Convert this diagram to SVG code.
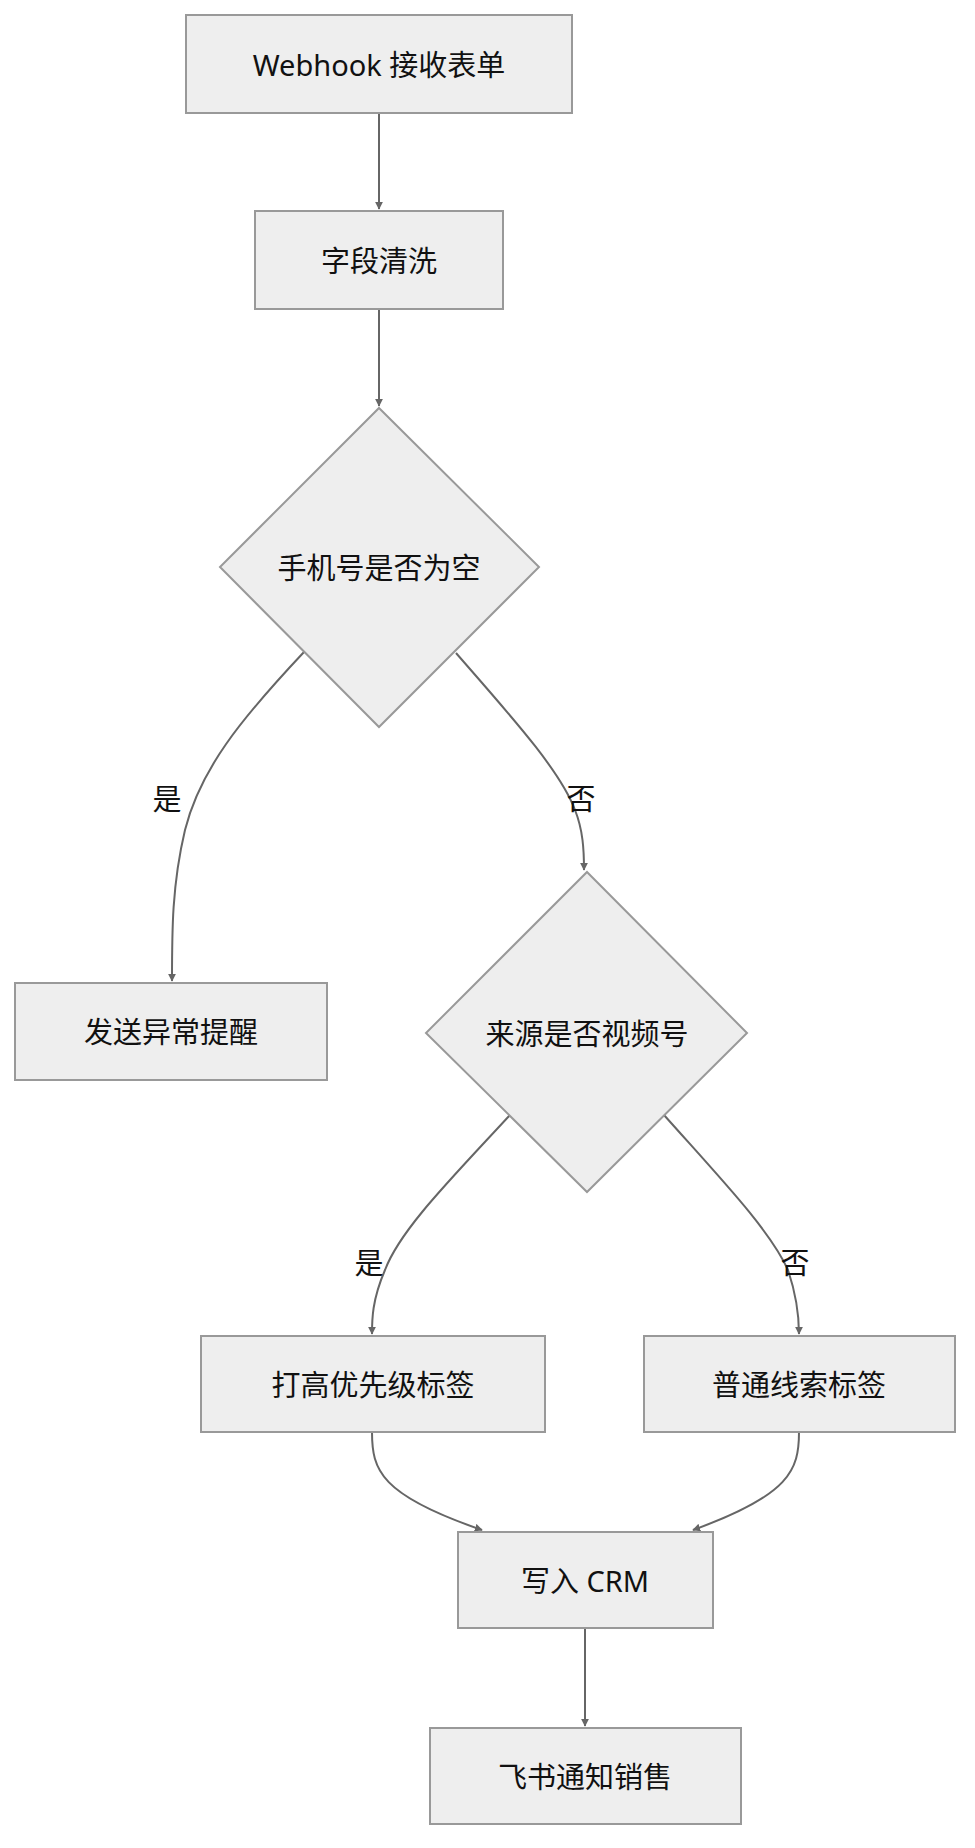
<svg xmlns="http://www.w3.org/2000/svg" width="975" height="1848" viewBox="0 0 975 1848">
<style>
.n{fill:#eeeeee;stroke:#999999;stroke-width:2}
.t{font-family:"Noto Sans","Noto Sans CJK SC",sans-serif;font-size:29px;fill:#111;text-anchor:middle;dominant-baseline:central}
.e{fill:none;stroke:#666666;stroke-width:2;marker-end:url(#a)}
.l{font-family:"Noto Sans","Noto Sans CJK SC",sans-serif;font-size:29px;fill:#111;text-anchor:middle;dominant-baseline:central}
</style>
<defs><marker id="a" viewBox="0 0 10 10" refX="9" refY="5" markerWidth="8" markerHeight="8" markerUnits="userSpaceOnUse" orient="auto"><path d="M0,0L10,5L0,10z" fill="#666666"/></marker></defs>
<rect width="975" height="1848" fill="#fff"/>
<g id="edges">
<path class="e" d="M379,113V209"/>
<path class="e" d="M379,309V406"/>
<path class="e" d="M304,652C240,720 200,770 185,830C172,885 172,930 172,981"/>
<path class="e" d="M456,653C510,715 560,770 575,810C583,830 584,850 584,870"/>
<path class="e" d="M510,1115C450,1180 400,1230 385,1270C372,1300 372,1320 372,1334"/>
<path class="e" d="M664,1115C720,1178 770,1230 788,1270C798,1300 799,1320 799,1334"/>
<path class="e" d="M372,1432C372,1470 380,1495 482,1530"/>
<path class="e" d="M799,1432C799,1470 790,1495 693,1530"/>
<path class="e" d="M585,1628V1726"/>
</g>
<g id="labels">
<rect x="152" y="780" width="32" height="36" fill="#fff" opacity="0.5"/>
<text class="l" x="167" y="798">是</text>
<text class="l" x="581" y="798">否</text>
<text class="l" x="369" y="1262">是</text>
<text class="l" x="795" y="1262">否</text>
</g>
<g id="n1"><rect class="n" x="186" y="15" width="386" height="98"/><text class="t" x="379" y="64">Webhook 接收表单</text></g>
<g id="n2"><rect class="n" x="255" y="211" width="248" height="98"/><text class="t" x="379" y="260">字段清洗</text></g>
<g id="n3"><polygon class="n" points="379,408 539,567 379,727 220,567"/><text class="t" x="379" y="567">手机号是否为空</text></g>
<g id="n4"><rect class="n" x="15" y="983" width="312" height="97"/><text class="t" x="171" y="1031">发送异常提醒</text></g>
<g id="n5"><polygon class="n" points="587,872 747,1033 587,1192 426,1033"/><text class="t" x="587" y="1033">来源是否视频号</text></g>
<g id="n6"><rect class="n" x="201" y="1336" width="344" height="96"/><text class="t" x="373" y="1384">打高优先级标签</text></g>
<g id="n7"><rect class="n" x="644" y="1336" width="311" height="96"/><text class="t" x="799" y="1384">普通线索标签</text></g>
<g id="n8"><rect class="n" x="458" y="1532" width="255" height="96"/><text class="t" x="585" y="1580">写入 CRM</text></g>
<g id="n9"><rect class="n" x="430" y="1728" width="311" height="96"/><text class="t" x="585" y="1776">飞书通知销售</text></g>
</svg>
